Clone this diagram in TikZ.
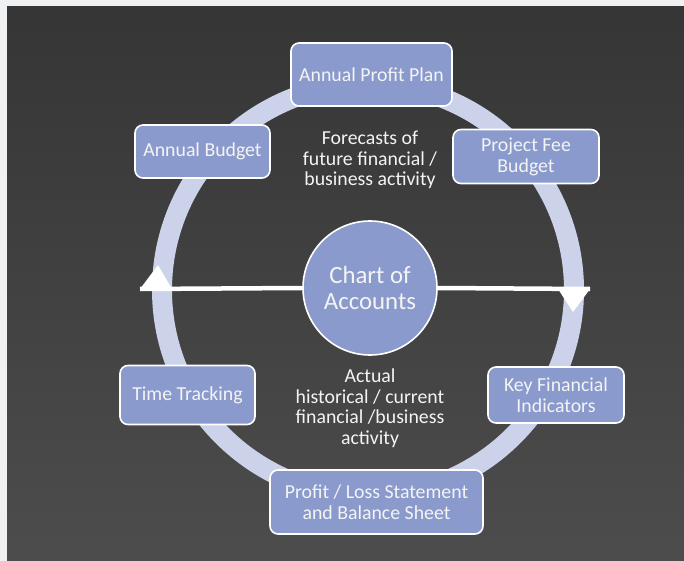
\documentclass[tikz,border=0pt]{standalone}
\usepackage{fontspec}
\setmainfont{Carlito}
\definecolor{pagebg}{HTML}{F0F1F3}
\definecolor{boxfill}{HTML}{8A9ACC}
\definecolor{ringcol}{HTML}{CBD2E9}
\definecolor{textcol}{HTML}{F4F4F4}
\tikzset{
  box/.style={draw=white, line width=1.6pt, fill=boxfill, rounded corners=8pt,
    text=textcol, align=center, inner sep=0pt,
    font=\fontsize{19.8}{21}\selectfont},
  note/.style={text=textcol, align=center, font=\fontsize{19.8}{20.5}\selectfont},
}
\begin{document}
\begin{tikzpicture}[x=1pt, y=-1pt]
  \useasboundingbox (0, 0) rectangle (684, 561);
  \fill[pagebg] (0, 0) rectangle (684, 561);
  \shade[top color=black!79, middle color=black!64, bottom color=black!70]
    (7, 7) rectangle (684, 561);
  % ring
  \draw[ringcol, line width=20pt] (368, 290) circle (206);
  % centre
  \node[circle, draw=white, line width=1.6pt, fill=boxfill, minimum size=134pt,
    inner sep=0pt, text=textcol, align=center,
    font=\fontsize{24.8}{26}\selectfont] (coa) at (370, 288) {Chart of\\Accounts};
  \coordinate (lft) at (140, 289);
  \coordinate (rgt) at (590, 289);
  \draw[white, line width=4.5pt] (coa.west) -- (lft);
  \draw[white, line width=4.5pt] (coa.east) -- (rgt);
  \fill[white] (lft) -- (172, 289) -- (158, 265) -- cycle;
  \fill[white] (558, 289) -- (rgt) -- (573, 312) -- cycle;
  % boxes
  \node[box, minimum width=161pt, minimum height=63pt] (apl) at (371.5, 74.5) {Annual Profit Plan};
  \node[box, minimum width=135pt, minimum height=53pt] (ab) at (202.5, 151.5) {Annual Budget};
  \node[box, minimum width=146pt, minimum height=54pt] (pfb) at (526, 156.5) {Project Fee\\Budget};
  \node[box, minimum width=135pt, minimum height=59pt] (tt) at (187.5, 395) {Time Tracking};
  \node[box, minimum width=136pt, minimum height=56pt] (kfi) at (556, 395) {Key Financial\\Indicators};
  \node[box, minimum width=213pt, minimum height=64pt] (pls) at (376.5, 502) {Profit / Loss Statement\\and Balance Sheet};
  % notes
  \node[note] (fc) at (370, 160) {Forecasts of\\future financial /\\business activity};
  \node[note] (act) at (370, 408) {Actual\\historical / current\\financial /business\\activity};
\end{tikzpicture}
\end{document}
